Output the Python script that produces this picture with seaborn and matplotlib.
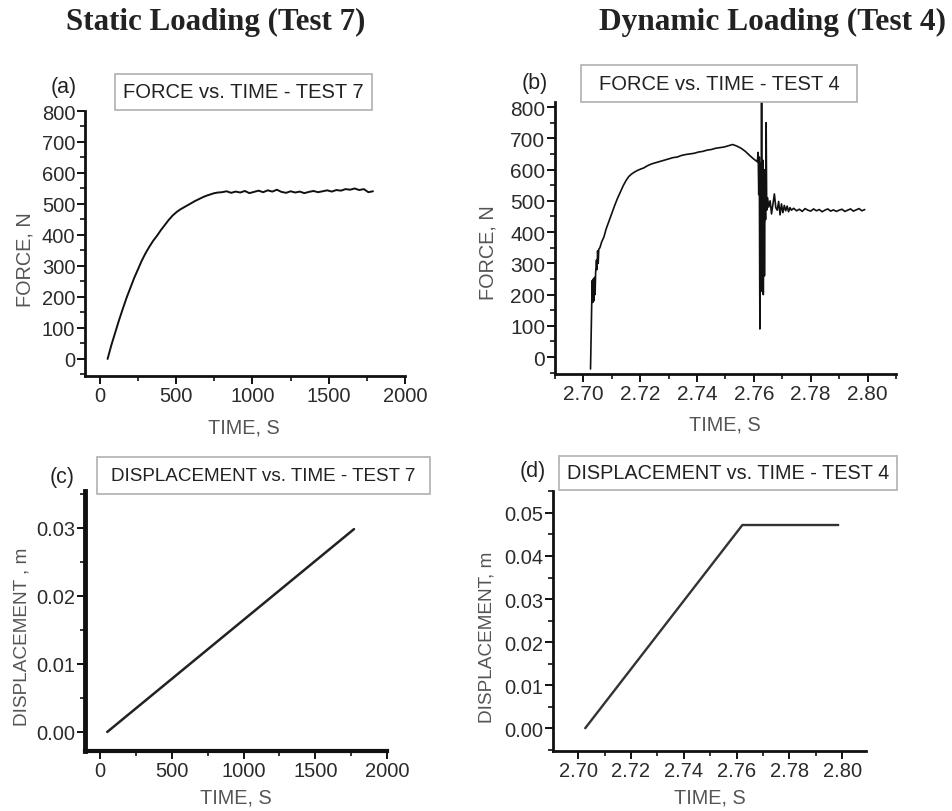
import numpy as np
import pandas as pd
import matplotlib
matplotlib.use("Agg")
import matplotlib.pyplot as plt
from matplotlib.patches import Rectangle
from matplotlib.ticker import MultipleLocator, FormatStrFormatter
import seaborn as sns

# ---------------- data ----------------
# (a) Force vs time, Test 7 (static)
time_a = [50, 75, 100, 125, 150, 175, 200, 225, 250, 275, 300, 325, 350, 375,
          400, 425, 450, 475, 500, 525, 550, 575, 600, 625, 650, 675, 700, 725,
          750, 775, 800, 830, 860, 890, 920, 950, 980, 1010, 1040, 1070, 1100,
          1130, 1160, 1190, 1220, 1250, 1280, 1310, 1340, 1370, 1400, 1430,
          1460, 1490, 1520, 1550, 1580, 1610, 1640, 1670, 1700, 1730, 1760, 1790]
force_a = [0, 45, 85, 125, 162, 198, 230, 262, 290, 318, 342, 363, 382, 398,
           416, 432, 448, 462, 473, 482, 489, 496, 503, 510, 516, 522, 527, 531,
           535, 537, 538, 541, 536, 540, 537, 542, 535, 539, 543, 538, 544,
           540, 546, 539, 536, 541, 537, 540, 535, 539, 542, 538, 541, 544,
           540, 545, 543, 548, 546, 550, 545, 548, 538, 541]

# (b) Force vs time, Test 4 (dynamic)
time_b = [2.7025, 2.7027, 2.7029, 2.7031, 2.7033, 2.7035, 2.7037, 2.7039, 2.7041,
          2.7043, 2.7046, 2.7048, 2.7050, 2.7052, 2.7054, 2.7058, 2.7064, 2.7072,
          2.7080, 2.7090, 2.7100, 2.7110, 2.7120, 2.7130, 2.7140, 2.7150, 2.7160,
          2.7170, 2.7180, 2.7190, 2.7200, 2.7212, 2.7225, 2.7240, 2.7255, 2.7270,
          2.7285, 2.7300, 2.7315, 2.7330, 2.7345, 2.7360, 2.7375, 2.7390, 2.7405,
          2.7420, 2.7435, 2.7450, 2.7465, 2.7480, 2.7495, 2.7510, 2.7525, 2.7540,
          2.7555, 2.7570, 2.7585, 2.7600, 2.7612, 2.7615, 2.7617, 2.7619, 2.7621,
          2.7623, 2.7625, 2.7627, 2.7629, 2.7631, 2.7633, 2.7635, 2.7637, 2.7639,
          2.7641, 2.7643, 2.7645, 2.7648, 2.7652, 2.7657, 2.7662, 2.7667, 2.7672,
          2.7677, 2.7682, 2.7687, 2.7692, 2.7697, 2.7702, 2.7707, 2.7712, 2.7717,
          2.7722, 2.7727, 2.7732, 2.7740, 2.7750, 2.7760, 2.7770, 2.7780, 2.7790,
          2.7800, 2.7810, 2.7820, 2.7830, 2.7840, 2.7850, 2.7860, 2.7870, 2.7880,
          2.7890, 2.7900, 2.7910, 2.7920, 2.7930, 2.7940, 2.7950, 2.7960, 2.7970,
          2.7980, 2.7990]
force_b = [-38, 60, 160, 245, 175, 250, 180, 255, 200,
           270, 310, 280, 340, 300, 345, 350, 368, 384,
           410, 435, 460, 485, 508, 528, 548, 565, 578,
           586, 592, 597, 601, 605, 612, 618, 622, 626,
           630, 634, 638, 640, 645, 648, 650, 652, 656,
           658, 662, 664, 668, 670, 672, 676, 680, 675,
           668, 658, 645, 633, 625, 655, 520, 640, 90,
           620, 250, 815, 210, 630, 200, 600, 260, 520,
           440, 750, 470, 510, 480, 500, 458, 490, 522,
           478, 470, 498, 455, 490, 462, 485, 468, 483,
           465, 478, 470, 476, 468, 473, 466, 475, 470,
           467, 474, 468, 472, 465, 470, 474, 467, 471,
           466, 470, 473, 466, 470, 474, 467, 471, 475,
           468, 472]

# (c) Displacement vs time, Test 7
time_c = [50, 1770]
disp_c = [0.0, 0.0298]

# (d) Displacement vs time, Test 4
time_d = [2.7027, 2.7622, 2.7985]
disp_d = [0.0, 0.0472, 0.0472]

headers = ["Static Loading (Test 7)", "Dynamic Loading (Test 4)"]
titles = ["FORCE vs. TIME - TEST 7", "FORCE vs. TIME - TEST 4",
          "DISPLACEMENT vs. TIME - TEST 7", "DISPLACEMENT vs. TIME - TEST 4"]
panel_tags = ["(a)", "(b)", "(c)", "(d)"]
ylabels = ["FORCE, N", "FORCE, N", "DISPLACEMENT , m", "DISPLACEMENT, m"]
xlabel = "TIME, S"

# ---------------- style ----------------
sns.set_theme(style="ticks")
plt.rcParams["font.family"] = ["Liberation Sans", "DejaVu Sans"]

W, H = 953, 812
fig = plt.figure(figsize=(W / 100, H / 100), dpi=100)
fig.patch.set_facecolor("white")


def fx(px):
    return px / W


def fy(py):
    return 1 - py / H


def make_axes(left, right, top, bottom):
    return fig.add_axes([fx(left), fy(bottom), (right - left) / W, (bottom - top) / H])


TICK_COL = "#2b2b2b"
LAB_COL = "#555555"

axes_px = [(85, 405, 112, 377), (555, 896, 103, 375),
           (85, 387, 492, 752), (553, 866, 492, 752)]
axs = [make_axes(*p) for p in axes_px]

data = [(time_a, force_a, "#111111", 1.4),
        (time_b, force_b, "#111111", 1.2),
        (time_c, disp_c, "#222222", 1.8),
        (time_d, disp_d, "#333333", 1.7)]
for ax, (x, y, c, lw) in zip(axs, data):
    df = pd.DataFrame({"t": x, "v": y})
    sns.lineplot(data=df, x="t", y="v", ax=ax, color=c, lw=lw,
                 estimator=None, sort=False)
    ax.set_facecolor("white")
    ax.grid(False)
    for s in ["top", "right"]:
        ax.spines[s].set_visible(False)
    for s in ["left", "bottom"]:
        ax.spines[s].set_color("#111111")
        ax.spines[s].set_linewidth(2)
    ax.tick_params(which="major", direction="out", length=6, width=1.4,
                   color="#111111", labelsize=14.5, labelcolor=TICK_COL, pad=1)
    ax.tick_params(which="minor", direction="out", length=3.5, width=1.2,
                   color="#111111")
    ax.set_xlabel("")
    ax.set_ylabel("")

# limits and ticks
axs[0].set_xlim(-98, 2000)
axs[0].set_ylim(-55, 800)
axs[0].xaxis.set_major_locator(MultipleLocator(500))
axs[0].xaxis.set_minor_locator(MultipleLocator(250))
axs[0].yaxis.set_major_locator(MultipleLocator(100))
axs[0].yaxis.set_minor_locator(MultipleLocator(50))

axs[1].set_xlim(2.690, 2.810)
axs[1].set_ylim(-54, 816)
axs[1].set_xticks([2.70, 2.72, 2.74, 2.76, 2.78, 2.80])
axs[1].xaxis.set_minor_locator(MultipleLocator(0.01))
axs[1].xaxis.set_major_formatter(FormatStrFormatter("%.2f"))
axs[1].set_yticks(list(range(0, 801, 100)))
axs[1].yaxis.set_minor_locator(MultipleLocator(50))
axs[1].tick_params(which="major", labelsize=15)

axs[2].set_xlim(-105, 2000)
axs[2].set_ylim(-0.0028, 0.0354)
axs[2].xaxis.set_major_locator(MultipleLocator(500))
axs[2].xaxis.set_minor_locator(MultipleLocator(250))
axs[2].set_yticks([0.0, 0.01, 0.02, 0.03])
axs[2].yaxis.set_minor_locator(MultipleLocator(0.005))
axs[2].yaxis.set_major_formatter(FormatStrFormatter("%.2f"))
axs[2].spines["left"].set_linewidth(3.5)
axs[2].spines["bottom"].set_linewidth(3)

axs[3].set_xlim(2.6905, 2.809)
axs[3].set_ylim(-0.0053, 0.0551)
axs[3].set_xticks([2.70, 2.72, 2.74, 2.76, 2.78, 2.80])
axs[3].xaxis.set_minor_locator(MultipleLocator(0.01))
axs[3].xaxis.set_major_formatter(FormatStrFormatter("%.2f"))
axs[3].set_yticks([0.0, 0.01, 0.02, 0.03, 0.04, 0.05])
axs[3].yaxis.set_minor_locator(MultipleLocator(0.005))
axs[3].yaxis.set_major_formatter(FormatStrFormatter("%.2f"))

# axis labels placed in figure pixel coordinates
ylab_pos = [(25, 260), (488, 253), (22, 637), (487, 637)]
xlab_pos = [(244, 428), (725, 425), (236, 798), (710, 798)]
ylab_size = [14.3, 14.3, 13.7, 13.7]
for ax, lab, (yx, yy), (xx, xy), ys in zip(axs, ylabels, ylab_pos, xlab_pos, ylab_size):
    ax.set_ylabel(lab, fontsize=ys, color=LAB_COL, va="center", ha="center")
    ax.yaxis.set_label_coords(fx(yx), fy(yy), transform=fig.transFigure)
    ax.set_xlabel(xlabel, fontsize=14.3, color=LAB_COL, va="center", ha="center")
    ax.xaxis.set_label_coords(fx(xx), fy(xy), transform=fig.transFigure)

# title boxes
boxes = [(115, 372, 75, 111), (581, 857, 66, 103), (97, 430, 458, 495), (559, 897, 457, 491)]
title_size = [14.5, 14.5, 13.6, 14.3]
for (l, r, t, b), txt, sz in zip(boxes, titles, title_size):
    fig.patches.append(Rectangle((fx(l), fy(b)), (r - l) / W, (b - t) / H,
                                 transform=fig.transFigure, facecolor="white",
                                 edgecolor="#b0b0b0", lw=1.2))
    fig.text(fx((l + r) / 2), fy((t + b) / 2), txt, ha="center", va="center",
             fontsize=sz, color="#222222")

# panel tags
tag_pos = [(64, 87), (535, 83), (62, 478), (533, 472)]
for (tx, ty), tg in zip(tag_pos, panel_tags):
    fig.text(fx(tx), fy(ty), tg, ha="center", va="center", fontsize=15.5,
             color="#222222")

# column headers
fig.text(fx(216), fy(22), headers[0], ha="center", va="center", fontsize=22.3,
         fontweight="bold", family=["Liberation Serif", "DejaVu Serif"], color="#222222")
fig.text(fx(773), fy(22), headers[1], ha="center", va="center", fontsize=22.6,
         fontweight="bold", family=["Liberation Serif", "DejaVu Serif"], color="#222222")

fig.savefig("out.png", dpi=100, facecolor="white")
